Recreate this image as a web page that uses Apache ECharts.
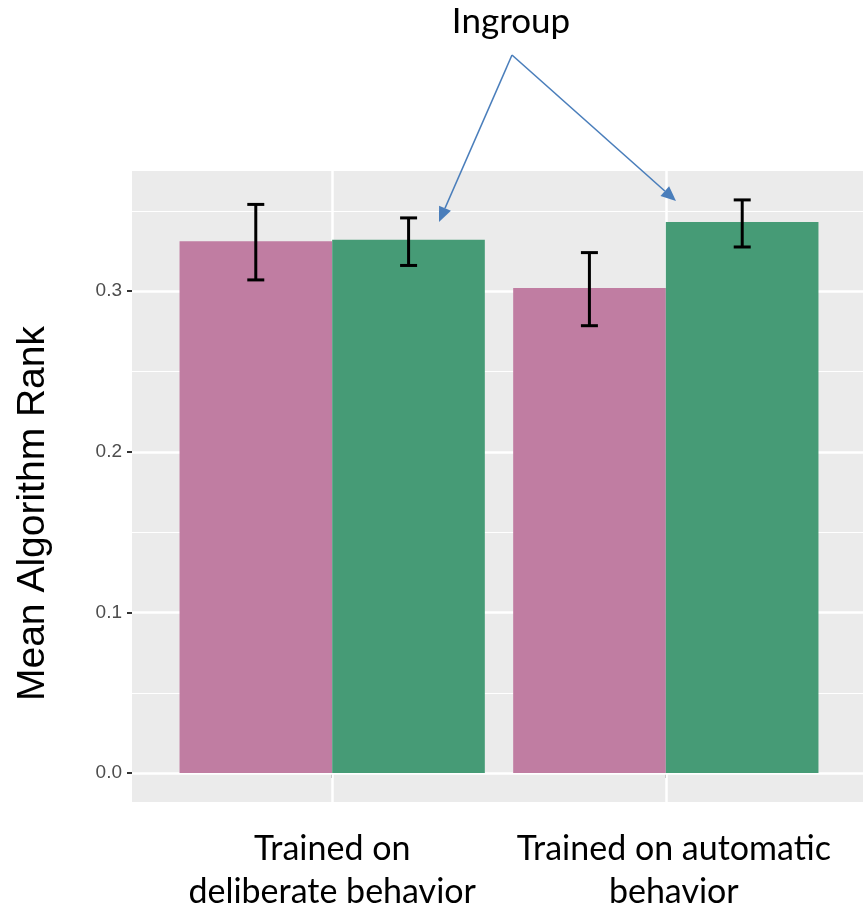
<!DOCTYPE html>
<html>
<head>
<meta charset="utf-8">
<script src="https://cdn.jsdelivr.net/npm/echarts@6/dist/echarts.min.js"></script>
<style>
  html, body { margin: 0; padding: 0; background: #ffffff; }
  #chart { width: 863px; height: 911px; }
</style>
</head>
<body>
<div id="chart"></div>
<script>
// Group labels and positions on the x scale
const groups = ['Trained on\ndeliberate behavior', 'Trained on automatic\nbehavior'];
const groupPos = [1, 2];

// Mean algorithm rank per group
const outgroupMean = [0.331, 0.302];
const ingroupMean = [0.332, 0.343];

// Error bar bounds
const outgroupLow = [0.307, 0.2785];
const outgroupHigh = [0.354, 0.324];
const ingroupLow = [0.316, 0.3275];
const ingroupHigh = [0.3456, 0.3568];

// Axis ticks and grid lines
const yTicks = [0, 0.1, 0.2, 0.3];
const yMinor = [0.05, 0.15, 0.25, 0.35];

const pink = '#c07da2';
const green = '#469b76';

const chart = echarts.init(document.getElementById('chart'), null, { renderer: 'canvas' });

function errorBars(lows, highs, offset) {
  return {
    type: 'custom',
    z: 4,
    silent: true,
    data: groupPos.map((g, i) => [g, lows[i], highs[i]]),
    encode: { x: 0, y: [1, 2] },
    renderItem(params, api) {
      const x = api.value(0) + offset;
      const lo = api.coord([x, api.value(1)]);
      const hi = api.coord([x, api.value(2)]);
      const half = 8.5;
      const style = { stroke: '#000', lineWidth: 3, fill: null };
      return {
        type: 'group',
        children: [
          { type: 'line', shape: { x1: lo[0], y1: lo[1], x2: hi[0], y2: hi[1] }, style },
          { type: 'line', shape: { x1: lo[0] - half, y1: lo[1], x2: lo[0] + half, y2: lo[1] }, style },
          { type: 'line', shape: { x1: hi[0] - half, y1: hi[1], x2: hi[0] + half, y2: hi[1] }, style }
        ]
      };
    }
  };
}

// Arrow from the annotation text to a point
function arrow(from, to) {
  const dx = to[0] - from[0], dy = to[1] - from[1];
  const len = Math.hypot(dx, dy);
  const ux = dx / len, uy = dy / len;
  const headLen = 15, headHalf = 6.5;
  const bx = to[0] - ux * headLen, by = to[1] - uy * headLen;
  return [
    {
      type: 'line',
      shape: { x1: from[0], y1: from[1], x2: bx, y2: by },
      style: { stroke: '#4a7ebb', lineWidth: 1.6 },
      z: 20
    },
    {
      type: 'polygon',
      shape: { points: [to, [bx - uy * headHalf, by + ux * headHalf], [bx + uy * headHalf, by - ux * headHalf]] },
      style: { fill: '#4a7ebb' },
      z: 20
    }
  ];
}

const apex = [512, 55];

chart.setOption({
  animation: false,
  backgroundColor: '#ffffff',
  grid: {
    left: 132, top: 171, width: 734, height: 631,
    outerBoundsMode: 'none',
    containLabel: false,
    show: true, backgroundColor: '#ebebeb', borderWidth: 0
  },
  xAxis: {
    type: 'value',
    min: 0.4, max: 2.6,
    axisLine: { show: false },
    splitLine: { show: false },
    axisTick: { show: true, customValues: groupPos, length: 5, lineStyle: { color: '#333333', width: 2 } },
    axisLabel: {
      customValues: groupPos,
      margin: 26,
      formatter: (v) => {
        const i = groupPos.indexOf(v);
        const key = i === 1 ? 'b' : 'a';
        return groups[i].split('\n').map(s => '{' + key + '|' + s + '}').join('\n');
      },
      rich: {
        a: { fontFamily: 'Lato', fontSize: 34, color: '#000', lineHeight: 43, align: 'center' },
        b: { fontFamily: 'Lato', fontSize: 34, color: '#000', lineHeight: 43, align: 'center', padding: [0, 0, 0, 16] }
      }
    }
  },
  yAxis: {
    type: 'value',
    min: -0.018, max: 0.3748,
    name: 'Mean Algorithm Rank',
    nameLocation: 'middle',
    nameGap: 79,
    nameTextStyle: { fontFamily: 'Liberation Sans', fontSize: 39, color: '#000', padding: [0, 54, 0, 0] },
    axisLine: { show: false },
    splitLine: { show: false },
    axisTick: { show: true, customValues: yTicks, length: 5, lineStyle: { color: '#333333', width: 2 } },
    axisLabel: {
      customValues: yTicks,
      margin: 10,
      formatter: (v) => v.toFixed(1),
      fontFamily: 'Liberation Sans', fontSize: 19, color: '#4d4d4d'
    }
  },
  series: [
    {
      // panel grid lines
      type: 'line',
      data: [],
      z: 1,
      silent: true,
      markLine: {
        silent: true,
        symbol: 'none',
        z: 1,
        label: { show: false },
        emphasis: { disabled: true },
        data: [
          ...yMinor.map(v => ({ yAxis: v, lineStyle: { color: '#ffffff', width: 1.2, type: 'solid' } })),
          ...yTicks.map(v => ({ yAxis: v, lineStyle: { color: '#ffffff', width: 2.5, type: 'solid' } })),
          ...groupPos.map(v => ({ xAxis: v, lineStyle: { color: '#ffffff', width: 2.5, type: 'solid' } }))
        ]
      }
    },
    {
      name: 'Outgroup',
      type: 'bar',
      z: 2,
      barGap: '0%',
      barCategoryGap: '8.5%',
      itemStyle: { color: pink },
      data: groupPos.map((g, i) => [g, outgroupMean[i]])
    },
    {
      name: 'Ingroup',
      type: 'bar',
      z: 2,
      barGap: '0%',
      barCategoryGap: '8.5%',
      itemStyle: { color: green },
      data: groupPos.map((g, i) => [g, ingroupMean[i]])
    },
    errorBars(outgroupLow, outgroupHigh, -0.229),
    errorBars(ingroupLow, ingroupHigh, 0.229)
  ],
  graphic: [
    {
      type: 'text',
      x: 511, y: 22,
      style: { text: 'Ingroup', fontFamily: 'Lato', fontSize: 35, fill: '#000', align: 'center', verticalAlign: 'middle' },
      z: 20
    },
    ...arrow(apex, [439, 222]),
    ...arrow(apex, [676, 201])
  ]
});
</script>
</body>
</html>
